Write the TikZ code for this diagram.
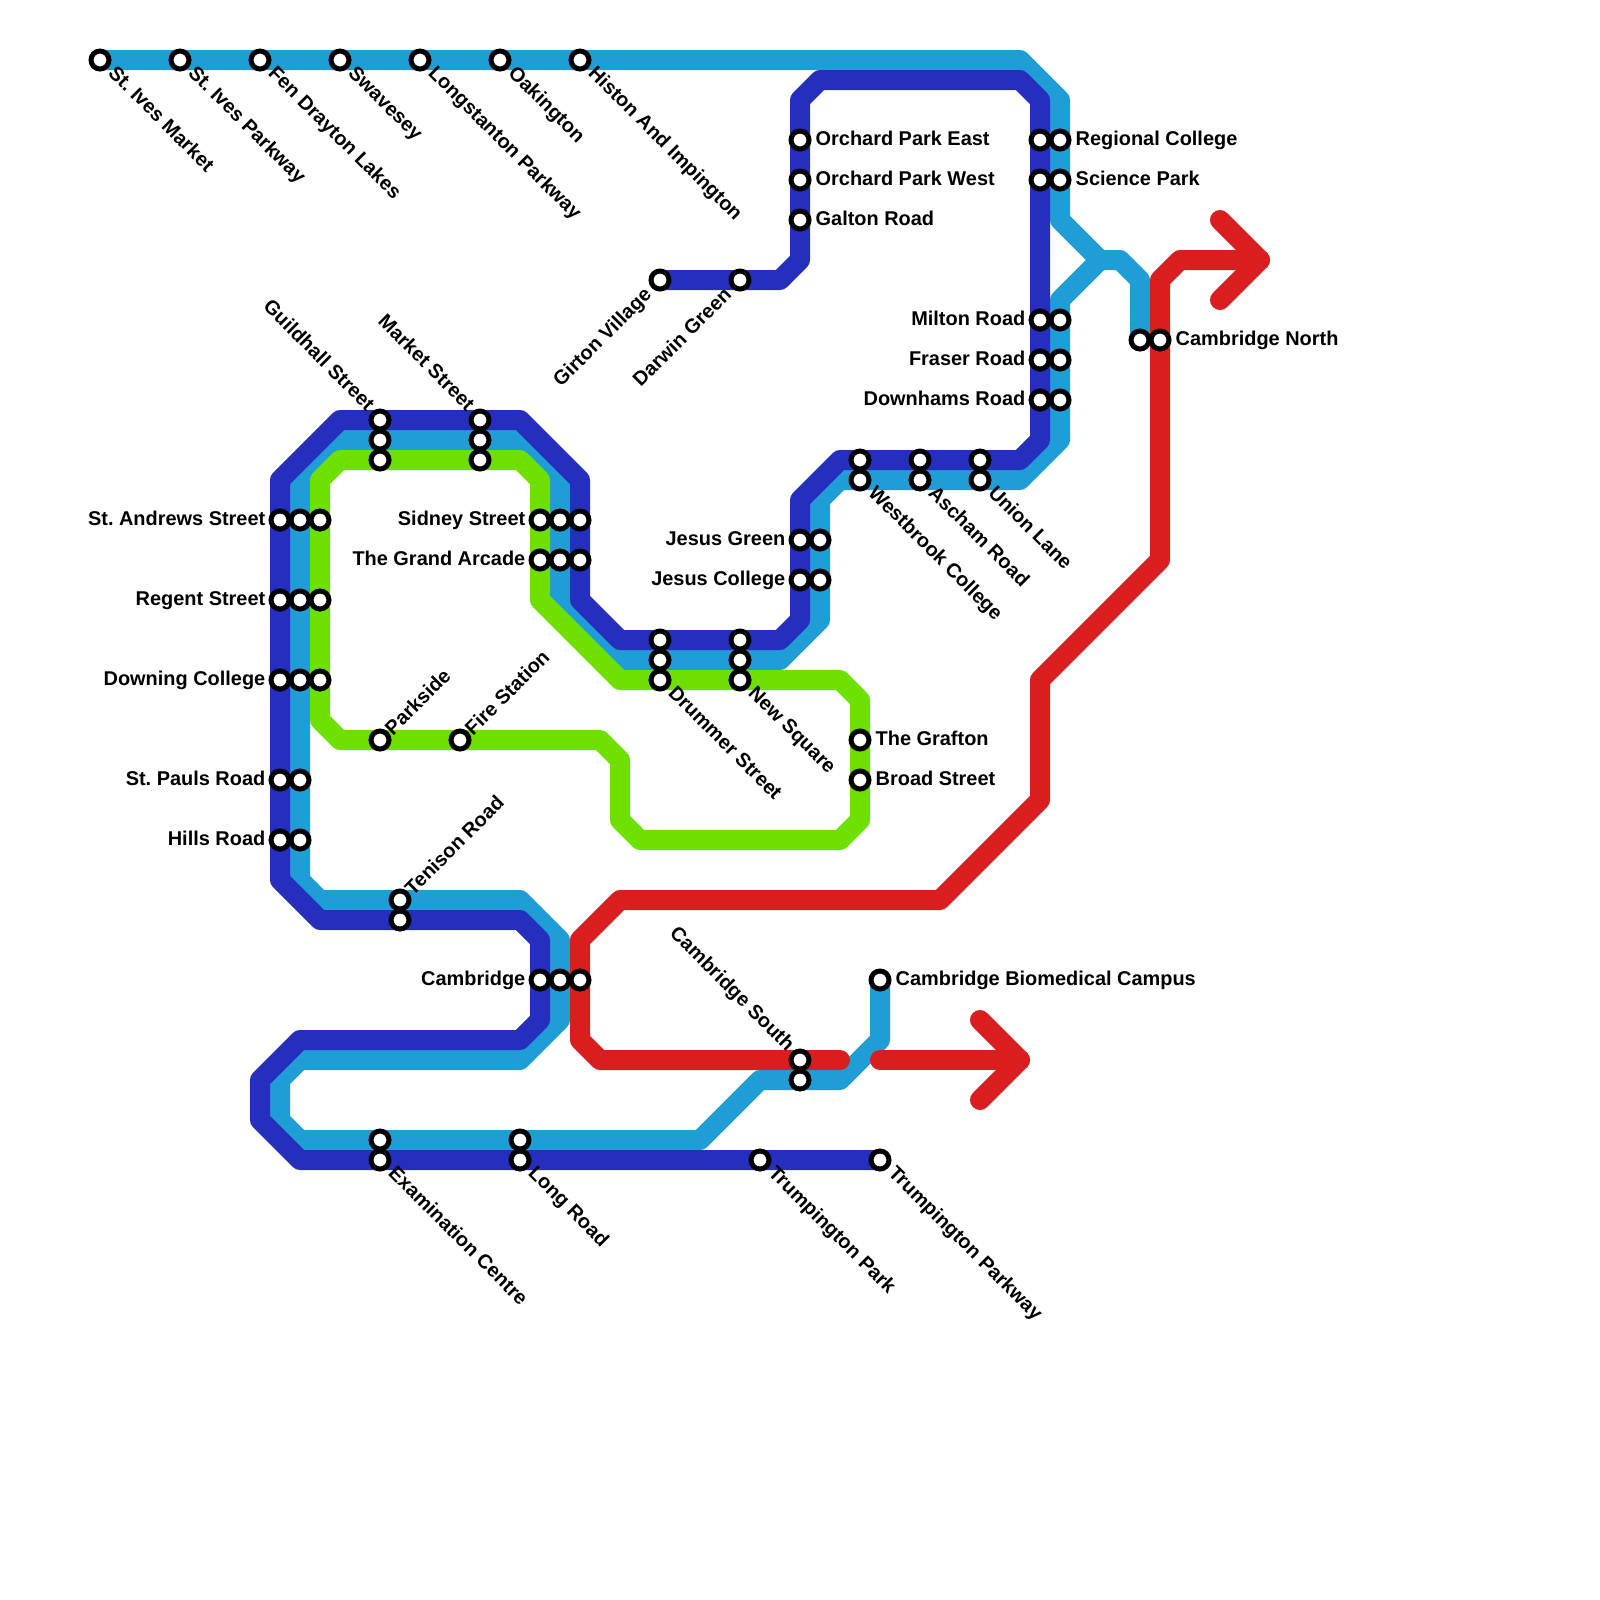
\documentclass[tikz,border=0pt]{standalone}
\usepackage{fontspec}
\setmainfont{Liberation Sans}
\usepackage{tikz}

\definecolor{darkline}{HTML}{262EBE}
\definecolor{skyline}{HTML}{1F9DD6}
\definecolor{limeline}{HTML}{6EE000}
\definecolor{redline}{HTML}{D81E1E}

\tikzset{
  track/.style={line width=0.2cm, line cap=round, line join=round},
  stn/.style={circle, draw=black, fill=white, line width=0.05cm, minimum size=0.18cm, inner sep=0pt},
  lbl/.style={font=\fontsize{5.67}{7}\selectfont\bfseries\frenchspacing, inner sep=0pt, text=black},
  lble/.style={lbl, anchor=base west, xshift=0.15cm, yshift=-0.05cm},
  lblw/.style={lbl, anchor=base east, xshift=-0.14cm, yshift=-0.05cm},
  lblse/.style={lbl, rotate=-45, anchor=base west, xshift=0.145cm, yshift=-0.047cm},
  lblne/.style={lbl, rotate=45, anchor=base west, xshift=0.113cm, yshift=-0.066cm},
  lblnw/.style={lbl, rotate=-45, anchor=base east, xshift=-0.146cm, yshift=-0.039cm},
  lblsw/.style={lbl, rotate=45, anchor=base east, xshift=-0.16cm, yshift=-0.061cm},
}

\begin{document}
\begin{tikzpicture}[x=0.2cm, y=-0.2cm]
  \useasboundingbox (0,0) rectangle (80,80);
  % Sky line, St. Ives to the north
  \draw[track, skyline] (5,3) -- (51,3) -- (53,5) -- (53,11) -- (55,13) -- (56,13) -- (57,14) -- (57,17);
  % Sky line, round the centre and south
  \draw[track, skyline] (55,13) -- (53,15) -- (53,22) -- (51,24) -- (42,24) -- (41,25) -- (41,31)
    -- (39,33) -- (31,33) -- (28,30) -- (28,24) -- (26,22) -- (17,22) -- (15,24) -- (15,44)
    -- (16,45) -- (26,45) -- (28,47) -- (28,51) -- (26,53) -- (15,53) -- (14,54) -- (14,56)
    -- (15,57) -- (35,57) -- (38,54) -- (42,54) -- (44,52) -- (44,49);
  % Dark line
  \draw[track, darkline] (33,14) -- (39,14) -- (40,13) -- (40,5) -- (41,4) -- (51,4) -- (52,5)
    -- (52,22) -- (51,23) -- (42,23) -- (40,25) -- (40,31) -- (39,32) -- (31,32) -- (29,30)
    -- (29,24) -- (26,21) -- (17,21) -- (14,24) -- (14,44) -- (16,46) -- (26,46) -- (27,47)
    -- (27,51) -- (26,52) -- (15,52) -- (13,54) -- (13,56) -- (15,58) -- (44,58);
  % Lime loop
  \draw[track, limeline] (23,37) -- (30,37) -- (31,38) -- (31,41) -- (32,42) -- (42,42) -- (43,41)
    -- (43,35) -- (42,34) -- (31,34) -- (27,30) -- (27,24) -- (26,23) -- (17,23) -- (16,24)
    -- (16,36) -- (17,37) -- (23,37);
  % Red line, both arrows
  \draw[track, redline] (42,53) -- (30,53) -- (29,52) -- (29,47) -- (31,45) -- (47,45) -- (52,40)
    -- (52,34) -- (58,28) -- (58,14) -- (59,13) -- (63,13);
  \draw[track, redline] (61,11) -- (63,13) -- (61,15);
  \draw[track, redline] (44,53) -- (51,53);
  \draw[track, redline] (49,51) -- (51,53) -- (49,55);
  % Stations
  \foreach \px/\py in {5/3, 9/3, 13/3, 17/3, 21/3, 25/3, 29/3,
      40/7, 40/9, 40/11, 52/7, 53/7, 52/9, 53/9, 33/14, 37/14,
      52/16, 53/16, 52/18, 53/18, 52/20, 53/20, 57/17, 58/17,
      19/21, 19/22, 19/23, 24/21, 24/22, 24/23,
      14/26, 15/26, 16/26, 14/30, 15/30, 16/30, 14/34, 15/34, 16/34,
      14/39, 15/39, 14/42, 15/42,
      27/26, 28/26, 29/26, 27/28, 28/28, 29/28,
      40/27, 41/27, 40/29, 41/29,
      43/23, 43/24, 46/23, 46/24, 49/23, 49/24,
      33/32, 33/33, 33/34, 37/32, 37/33, 37/34,
      43/37, 43/39, 19/37, 23/37, 20/45, 20/46,
      27/49, 28/49, 29/49, 40/53, 40/54, 44/49,
      19/57, 19/58, 26/57, 26/58, 38/58, 44/58}
    \node[stn] (s\px-\py) at (\px,\py) {};
  % Labels
  \foreach \px/\py/\txt in {40/7/Orchard Park East, 40/9/Orchard Park West, 40/11/Galton Road,
      53/7/Regional College, 53/9/Science Park, 58/17/Cambridge North,
      43/37/The Grafton, 43/39/Broad Street, 44/49/Cambridge Biomedical Campus}
    \node[lble] (t\px-\py) at (\px,\py) {\txt};
  \foreach \px/\py/\txt in {52/16/Milton Road, 52/18/Fraser Road, 52/20/Downhams Road,
      14/26/St. Andrews Street, 14/30/Regent Street, 14/34/Downing College,
      14/39/St. Pauls Road, 14/42/Hills Road,
      27/26/Sidney Street, 27/28/The Grand Arcade,
      40/27/Jesus Green, 40/29/Jesus College, 27/49/Cambridge}
    \node[lblw] (t\px-\py) at (\px,\py) {\txt};
  \foreach \px/\py/\txt in {5/3/St. Ives Market, 9/3/St. Ives Parkway, 13/3/Fen Drayton Lakes,
      17/3/Swavesey, 21/3/Longstanton Parkway, 25/3/Oakington, 29/3/Histon And Impington,
      43/24/Westbrook College, 46/24/Ascham Road, 49/24/Union Lane,
      33/34/Drummer Street, 37/34/New Square,
      19/58/Examination Centre, 26/58/Long Road, 38/58/Trumpington Park, 44/58/Trumpington Parkway}
    \node[lblse] (t\px-\py) at (\px,\py) {\txt};
  \foreach \px/\py/\txt in {19/37/Parkside, 23/37/Fire Station, 20/45/Tenison Road}
    \node[lblne] (t\px-\py) at (\px,\py) {\txt};
  \foreach \px/\py/\txt in {19/21/Guildhall Street, 24/21/Market Street, 40/53/Cambridge South}
    \node[lblnw] (t\px-\py) at (\px,\py) {\txt};
  \foreach \px/\py/\txt in {33/14/Girton Village, 37/14/Darwin Green}
    \node[lblsw] (t\px-\py) at (\px,\py) {\txt};
\end{tikzpicture}
\end{document}
